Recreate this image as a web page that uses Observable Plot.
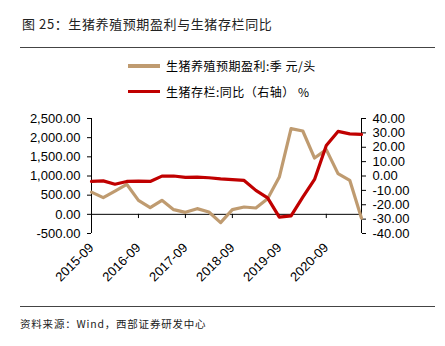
<!DOCTYPE html>
<html><head><meta charset="utf-8">
<script src="https://cdn.jsdelivr.net/npm/d3@7"></script>
<script src="https://cdn.jsdelivr.net/npm/@observablehq/plot@0.6"></script>
<style>
body{margin:0;background:#fff;}
#wrap{position:relative;width:445px;height:346px;overflow:hidden;font-family:"Liberation Sans","Noto Sans CJK SC",sans-serif;color:#000;}
.title{position:absolute;left:22px;top:14px;font-size:13px;letter-spacing:0.6px;font-family:"Noto Sans CJK SC","Liberation Sans",sans-serif;color:#222;}
.hr{position:absolute;left:20px;width:415px;height:1px;background:#444;}
.leg{position:absolute;left:128px;font-size:12px;font-family:"Noto Sans CJK SC","Liberation Sans",sans-serif;display:flex;align-items:center;letter-spacing:0.5px;}
.sw{width:32px;margin-right:6px;}
.foot{position:absolute;left:20px;top:316px;font-size:10.5px;letter-spacing:0.8px;font-family:"Noto Sans CJK SC","Liberation Sans",sans-serif;color:#222;}
#chart{position:absolute;left:0;top:100px;}
</style></head>
<body><div id="wrap">
<div class="title">图 25：生猪养殖预期盈利与生猪存栏同比</div>
<div class="hr" style="top:47px"></div>
<div class="leg" style="top:57px"><div class="sw" style="height:4px;background:#BF9B70"></div>生猪养殖预期盈利:季 元/头</div>
<div class="leg" style="top:83px"><div class="sw" style="height:3px;background:#C00000"></div>生猪存栏:同比（右轴） %</div>
<div id="chart"></div>
<div class="hr" style="top:306px"></div>
<div class="foot">资料来源：Wind，西部证券研发中心</div>
</div>
<script>
const quarters = ["2015-09","2015-12","2016-03","2016-06","2016-09","2016-12","2017-03","2017-06",
  "2017-09","2017-12","2018-03","2018-06","2018-09","2018-12","2019-03","2019-06",
  "2019-09","2019-12","2020-03","2020-06","2020-09","2020-12","2021-03","2021-06"];
const profit = [580,435,608,783,365,175,365,122,52,148,60,-217,122,191,165,409,973,2236,2174,1469,1688,1062,887,-100];
const inventoryYoY = [-3.8,-3.4,-5.7,-3.8,-3.6,-3.8,-0.1,0,-1,-0.8,-1.2,-2,-2.5,-3.1,-10,-15.2,-28.6,-27.7,-14.7,-2.4,21.2,31,29.3,28.9];
const leftTicks = [-500,0,500,1000,1500,2000,2500];
const rightTicks = [-40,-30,-20,-10,0,10,20,30,40];
const xTickIdx = [0,4,8,12,16,20];

const lMin=-500,lMax=2500,rMin=-40,rMax=40;
const toLeft = v => (v-rMin)/(rMax-rMin)*(lMax-lMin)+lMin;
const fromLeft = v => (v-lMin)/(lMax-lMin)*(rMax-rMin)+rMin;
const fmt = d3.format(",.2f");
const sfmt = d => (d < -1e-9 ? "-" : "") + fmt(Math.abs(d));
const idx = quarters.map((_,i)=>i);
const tan="#BF9B70", red="#C00000";

const chart = Plot.plot({
  width:445, height:200,
  marginLeft:91, marginRight:84, marginTop:18, marginBottom:67,
  style:{fontFamily:"Liberation Sans, Arial, sans-serif", fontSize:"13px", color:"#000", background:"transparent"},
  x:{domain:[0,quarters.length-1]},
  y:{domain:[lMin,lMax]},
  marks:[
    Plot.ruleY([0],{stroke:"#000",strokeWidth:1}),
    Plot.ruleX(xTickIdx,{x:d=>d,y1:0,y2:-110,stroke:"#000"}),
    Plot.ruleX([0,quarters.length-1],{x:d=>d,y1:lMin,y2:lMax,stroke:"#000"}),
    Plot.axisY(leftTicks,{anchor:"left",tickSize:4,tickPadding:7,tickFormat:sfmt,fontSize:13}),
    Plot.axisY(rightTicks.map(toLeft),{anchor:"right",tickSize:4,tickPadding:7,tickFormat:d=>sfmt(Math.round(fromLeft(d)*100)/100),fontSize:13}),
    Plot.axisX(xTickIdx,{anchor:"bottom",tickSize:0,tickPadding:6,dy:6,tickRotate:-45,tickFormat:i=>quarters[i],fontSize:13}),
    Plot.line(idx,{x:i=>i,y:i=>profit[i],stroke:tan,strokeWidth:3.2}),
    Plot.line(idx,{x:i=>i,y:i=>toLeft(inventoryYoY[i]),stroke:red,strokeWidth:3.2})
  ]
});
document.getElementById("chart").appendChild(chart);
</script>
</body></html>
